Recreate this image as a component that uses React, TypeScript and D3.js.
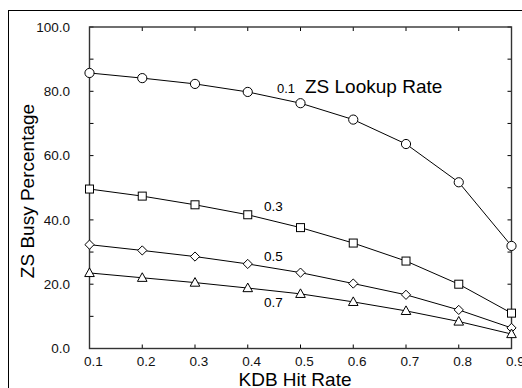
import * as d3 from 'd3';
import React from 'react';

const hitRates = [0.1, 0.2, 0.3, 0.4, 0.5, 0.6, 0.7, 0.8, 0.9];
const busy01 = [85.7, 84.1, 82.3, 79.8, 76.3, 71.2, 63.6, 51.7, 31.9];
const busy03 = [49.6, 47.4, 44.7, 41.6, 37.6, 32.8, 27.2, 20.0, 11.0];
const busy05 = [32.3, 30.5, 28.6, 26.3, 23.6, 20.2, 16.7, 12.0, 6.4];
const busy07 = [23.5, 22.0, 20.5, 18.8, 17.0, 14.5, 11.7, 8.4, 4.5];
const yTicks = [0, 20, 40, 60, 80, 100];
const yMinor = [10, 30, 50, 70, 90];
const xTicks = [0.1, 0.2, 0.3, 0.4, 0.5, 0.6, 0.7, 0.8, 0.9];

const series = [
    { name: '0.1', values: busy01, shape: 'circle' },
    { name: '0.3', values: busy03, shape: 'square' },
    { name: '0.5', values: busy05, shape: 'diamond' },
    { name: '0.7', values: busy07, shape: 'triangle' },
];

const font = 'Liberation Sans, Arial, Helvetica, sans-serif';

const marker = (shape: string, x: number, y: number, key: number) => {
    const common = { key, fill: '#fff', stroke: '#000', strokeWidth: 1 };
    if (shape === 'circle') return <circle {...common} cx={x} cy={y} r={4.6} />;
    if (shape === 'square') return <rect {...common} x={x - 4} y={y - 4} width={8} height={8} />;
    if (shape === 'diamond')
        return <path {...common} d={`M${x},${y - 4.6}L${x + 4.6},${y}L${x},${y + 4.6}L${x - 4.6},${y}Z`} />;
    return <path {...common} d={`M${x},${y - 5}L${x + 4.8},${y + 3.6}L${x - 4.8},${y + 3.6}Z`} />;
};

export default () => {
    const x = d3.scaleLinear().domain([0.1, 0.9]).range([89.5, 511.5]);
    const y = d3.scaleLinear().domain([0, 100]).range([348.5, 27]);
    const line = d3.line<number>()
        .x((d, i) => x(hitRates[i]))
        .y(d => y(d));

    return (
        <svg width={522} height={388} style={{ position: 'absolute', left: 0, top: 0 }} fontFamily={font}>
            <rect x={8.5} y={10.5} width={600} height={500} fill="none" stroke="#000" strokeWidth={1} />

            {/* ticks, inward on all four sides */}
            {[...yTicks, ...yMinor].map(t => (
                <g key={'yt' + t}>
                    <line x1={x(0.1)} x2={x(0.1) + 4} y1={y(t)} y2={y(t)} stroke="#000" />
                    <line x1={x(0.9)} x2={x(0.9) - 4} y1={y(t)} y2={y(t)} stroke="#000" />
                </g>
            ))}
            {xTicks.map(t => (
                <g key={'xt' + t}>
                    <line x1={x(t)} x2={x(t)} y1={y(0)} y2={y(0) - 4} stroke="#000" />
                    <line x1={x(t)} x2={x(t)} y1={y(100)} y2={y(100) + 4} stroke="#000" />
                </g>
            ))}
            <rect x={x(0.1)} y={y(100)} width={x(0.9) - x(0.1)} height={y(0) - y(100)}
                fill="none" stroke="#333" strokeWidth={1.4} />

            {yTicks.map(t => (
                <text key={'yl' + t} x={70} y={y(t)} dy="0.35em" textAnchor="end" fontSize={13.5} fill="#111">
                    {t.toFixed(1)}
                </text>
            ))}
            {xTicks.map(t => (
                <text key={'xl' + t} x={x(t) + 4} y={366} textAnchor="middle" fontSize={13.5} fill="#111">
                    {t.toFixed(1)}
                </text>
            ))}

            {series.map(s => (
                <g key={s.name}>
                    <path d={line(s.values) || ''} fill="none" stroke="#000" strokeWidth={1} />
                    {s.values.map((v, i) => marker(s.shape, x(hitRates[i]), y(v), i))}
                </g>
            ))}

            <text x={277} y={93} fontSize={13}>0.1</text>
            <text x={305} y={93} fontSize={19}>ZS Lookup Rate</text>
            <text x={264} y={211} fontSize={13.5}>0.3</text>
            <text x={264} y={261} fontSize={13.5}>0.5</text>
            <text x={264} y={307} fontSize={13.5}>0.7</text>

            <text x={295} y={386} textAnchor="middle" fontSize={19}>KDB Hit Rate</text>
            <text transform="translate(34,191) rotate(-90)" textAnchor="middle" fontSize={19}>ZS Busy Percentage</text>
        </svg>
    );
};
